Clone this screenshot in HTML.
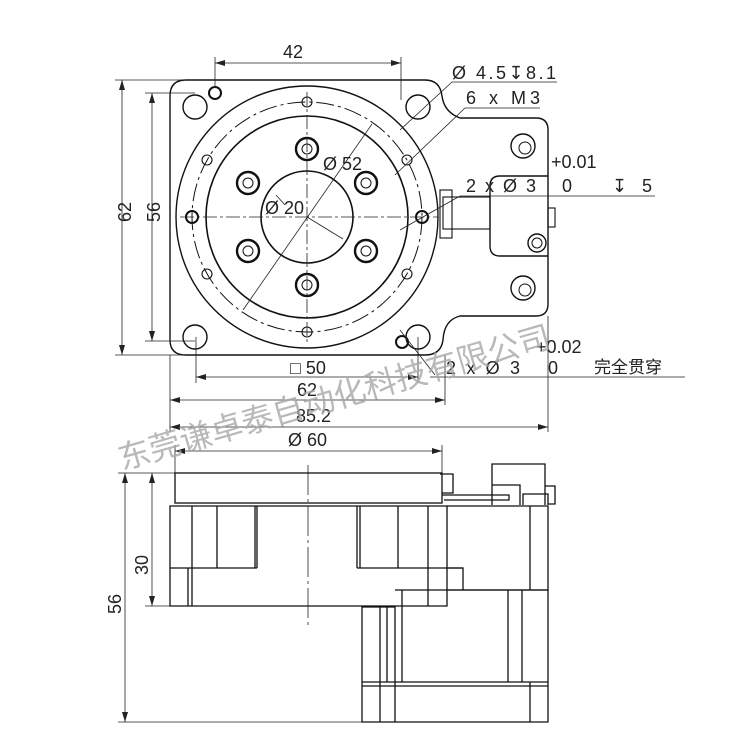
<!DOCTYPE html>
<html><head><meta charset="utf-8"><style>
html,body{margin:0;padding:0;background:#fff;}
svg{display:block;}
text{font-family:"Liberation Sans","Noto Sans CJK SC",sans-serif;fill:#222;}
</style></head><body>
<svg width="750" height="749" viewBox="0 0 750 749" xmlns="http://www.w3.org/2000/svg">
<defs>
<marker id="a" viewBox="0 0 10 6" refX="10" refY="3" markerWidth="10" markerHeight="6" orient="auto-start-reverse" markerUnits="userSpaceOnUse"><path d="M0,0 L10,3 L0,6 z" fill="#222"/></marker>
</defs>
<g fill="none" stroke="#111" stroke-width="1.4">
<path d="M186,80 H425 Q440,80 442,96 Q444,112 460,118 H536 Q548,118 548,130 V304 Q548,316 536,316 H460 Q444,320 443,340 Q441,355 425,355 H186 Q170,355 170,340 V96 Q170,80 186,80 Z"/>
<path d="M548,176 H500 Q490,176 490,186 V246 Q490,256 500,256 H548"/>
<rect x="443" y="197" width="47" height="32" stroke-width="1.1"/>
<rect x="440" y="190" width="12" height="48" stroke-width="1.1"/>
<rect x="548" y="208" width="7" height="19" stroke-width="1.1"/>
<circle cx="523" cy="146" r="12"/><circle cx="525" cy="148" r="6" stroke-width="1"/>
<circle cx="523" cy="288" r="12"/><circle cx="525" cy="290" r="6" stroke-width="1"/>
<circle cx="537" cy="243" r="9"/><circle cx="537" cy="243" r="5" stroke-width="1"/>
<circle cx="307" cy="217" r="131"/>
<circle cx="307" cy="217" r="115" stroke-width="1" stroke-dasharray="18,4,3,4"/>
<circle cx="307" cy="217" r="101" stroke-width="1.6"/>
<circle cx="307" cy="217" r="46" stroke-width="1.6"/>
<circle cx="195" cy="107" r="12"/><circle cx="418" cy="107" r="12"/>
<circle cx="195" cy="337" r="12"/><circle cx="418" cy="337" r="12"/>
<circle cx="215" cy="93" r="6" stroke-width="2"/>
<circle cx="402" cy="342" r="6" stroke-width="2"/>
<g stroke-width="2.4">
<circle cx="307" cy="149" r="11"/><circle cx="307" cy="285" r="11"/>
<circle cx="248" cy="183" r="11"/><circle cx="366" cy="183" r="11"/>
<circle cx="248" cy="251" r="11"/><circle cx="366" cy="251" r="11"/>
</g>
<g stroke-width="1">
<circle cx="307" cy="149" r="5"/><circle cx="307" cy="285" r="5"/>
<circle cx="248" cy="183" r="5"/><circle cx="366" cy="183" r="5"/>
<circle cx="248" cy="251" r="5"/><circle cx="366" cy="251" r="5"/>
</g>
<g stroke-width="1.1">
<circle cx="307" cy="102" r="5"/><circle cx="307" cy="332" r="5"/>
<circle cx="207" cy="160" r="5"/><circle cx="407" cy="160" r="5"/>
<circle cx="207" cy="274" r="5"/><circle cx="407" cy="274" r="5"/>
</g>
<circle cx="192" cy="217" r="6" stroke-width="2"/><circle cx="422" cy="217" r="6" stroke-width="2"/>
</g>
<g stroke="#222" stroke-width="0.8" fill="none">
<line x1="307" y1="92" x2="307" y2="345" stroke-dasharray="14,3,3,3"/>
<line x1="180" y1="217" x2="438" y2="217" stroke-dasharray="14,3,3,3"/>
<line x1="243" y1="310" x2="372" y2="124"/>
<line x1="307" y1="217" x2="343" y2="239"/>
<line x1="276" y1="195" x2="285" y2="205"/>
<line x1="400" y1="130" x2="452" y2="82"/><line x1="452" y1="82" x2="557" y2="82"/>
<line x1="395" y1="175" x2="465" y2="108"/><line x1="465" y1="108" x2="540" y2="108"/>
<line x1="400" y1="230" x2="460" y2="196"/><line x1="460" y1="196" x2="655" y2="196"/>
<line x1="400" y1="330" x2="435" y2="375"/><line x1="430" y1="377" x2="685" y2="377"/>
<line x1="215" y1="88" x2="215" y2="57"/><line x1="401" y1="100" x2="401" y2="57"/>
<line x1="215" y1="63" x2="401" y2="63" marker-start="url(#a)" marker-end="url(#a)"/>
<line x1="115" y1="80" x2="186" y2="80"/><line x1="115" y1="355" x2="186" y2="355"/>
<line x1="122" y1="80" x2="122" y2="355" marker-start="url(#a)" marker-end="url(#a)"/>
<line x1="145" y1="93" x2="195" y2="93"/><line x1="145" y1="341" x2="195" y2="341"/>
<line x1="152" y1="93" x2="152" y2="341" marker-start="url(#a)" marker-end="url(#a)"/>
<line x1="196" y1="337" x2="196" y2="383"/><line x1="418" y1="337" x2="418" y2="383"/>
<line x1="196" y1="377" x2="418" y2="377" marker-start="url(#a)" marker-end="url(#a)"/>
<line x1="170" y1="355" x2="170" y2="432"/><line x1="445" y1="355" x2="445" y2="405"/>
<line x1="170" y1="400" x2="445" y2="400" marker-start="url(#a)" marker-end="url(#a)"/>
<line x1="548" y1="316" x2="548" y2="432"/>
<line x1="170" y1="427" x2="548" y2="427" marker-start="url(#a)" marker-end="url(#a)"/>
<line x1="175" y1="451" x2="442" y2="451" marker-start="url(#a)" marker-end="url(#a)"/>
<line x1="175" y1="445" x2="175" y2="473"/><line x1="442" y1="445" x2="442" y2="473"/>
<line x1="118" y1="473" x2="175" y2="473"/><line x1="118" y1="722" x2="362" y2="722"/>
<line x1="125" y1="473" x2="125" y2="722" marker-start="url(#a)" marker-end="url(#a)"/>
<line x1="145" y1="606" x2="170" y2="606"/>
<line x1="152" y1="473" x2="152" y2="606" marker-start="url(#a)" marker-end="url(#a)"/>
<line x1="308" y1="465" x2="308" y2="625" stroke-dasharray="30,4,3,4"/>
</g>
<g fill="none" stroke="#111" stroke-width="1.3">
<rect x="175" y="473" width="267" height="30"/>
<path d="M170,506 H447 V606 H170 Z"/>
<line x1="170" y1="568" x2="257" y2="568"/><line x1="357" y1="568" x2="463" y2="568"/>
<line x1="192" y1="506" x2="192" y2="606"/><line x1="188" y1="568" x2="188" y2="606"/>
<line x1="217" y1="506" x2="217" y2="568"/><line x1="257" y1="506" x2="257" y2="568"/>
<line x1="255" y1="506" x2="255" y2="568"/>
<line x1="357" y1="506" x2="357" y2="568"/><line x1="360" y1="506" x2="360" y2="568"/>
<line x1="398" y1="506" x2="398" y2="568"/><line x1="428" y1="506" x2="428" y2="606"/>
<path d="M447,506 H548 V590 H447"/>
<path d="M447,568 H463 V590"/>
<line x1="530" y1="506" x2="530" y2="590"/>
<path d="M362,607 H395 V722 H362 Z"/>
<path d="M395,590 H548 V722 H395"/>
<line x1="380" y1="607" x2="380" y2="722"/><line x1="387" y1="607" x2="387" y2="682"/>
<line x1="402" y1="590" x2="402" y2="682"/>
<line x1="508" y1="590" x2="508" y2="682"/><line x1="522" y1="590" x2="522" y2="682"/>
<line x1="530" y1="682" x2="530" y2="722"/>
<line x1="362" y1="682" x2="548" y2="682"/><line x1="362" y1="686" x2="548" y2="686"/>
<path d="M440,474 H453 V493 H442"/>
<path d="M442,495 H509 V500 H444"/>
<path d="M492,505 V464 H545 V505"/><path d="M492,485 H520 V505"/>
<path d="M523,505 V494 H548 V505"/><path d="M545,486 H555 V504 H548"/>
</g>
<g font-size="18">
<text x="283" y="58">42</text>
<text x="452" y="79" textLength="104" lengthAdjust="spacing">Ø 4.5↧8.1</text>
<text x="466" y="104" textLength="74" lengthAdjust="spacing">6 x  M3</text>
<text x="551" y="168">+0.01</text>
<text x="466" y="192" textLength="70" lengthAdjust="spacing">2 x Ø  3</text>
<text x="562" y="192">0</text>
<text x="612" y="192" textLength="40" lengthAdjust="spacing">↧  5</text>
<text x="323" y="170">Ø 52</text>
<text x="265" y="214">Ø 20</text>
<text x="536" y="353">+0.02</text>
<text x="446" y="374" textLength="74" lengthAdjust="spacing">2 x Ø  3</text>
<text x="548" y="374">0</text>
<text x="594" y="373" font-size="17">完全贯穿</text>
<text x="290" y="374">□ 50</text>
<text x="297" y="396">62</text>
<text x="296" y="422">85.2</text>
<text x="288" y="446">Ø 60</text>
<text transform="translate(131,222) rotate(-90)">62</text>
<text transform="translate(160,222) rotate(-90)">56</text>
<text transform="translate(148,575) rotate(-90)">30</text>
<text transform="translate(121,614) rotate(-90)">56</text>
</g>
<text transform="translate(122,470) rotate(-16)" font-size="32" style="fill:#a8a8a8" opacity="0.8">东莞谦卓泰自动化科技有限公司</text>
</svg>
</body></html>
